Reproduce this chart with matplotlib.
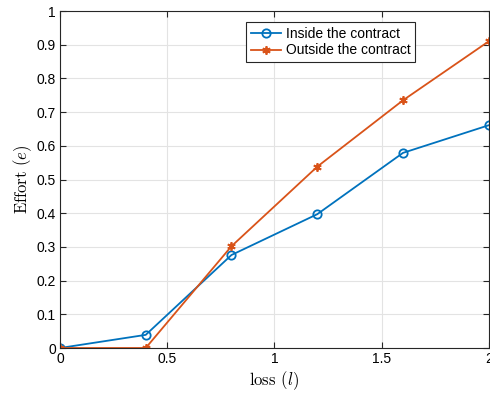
import matplotlib
matplotlib.use("Agg")
import matplotlib.pyplot as plt

loss = [0, 0.4, 0.8, 1.2, 1.6, 2.0]
inside = [0, 0.039, 0.276, 0.397, 0.579, 0.661]
outside = [0, 0, 0.302, 0.538, 0.735, 0.910]

plt.rcParams['font.family'] = 'Liberation Sans'
plt.rcParams['mathtext.fontset'] = 'cm'

fig = plt.figure(figsize=(4.9, 3.96), dpi=100)
ax = fig.add_axes([0.1224, 0.1212, 0.875, 0.851])

ax.plot(loss, inside, color='#0072BD', marker='o', markerfacecolor='none',
        markersize=6, markeredgewidth=1.3, linewidth=1.3, label='Inside the contract')
ax.plot(loss, outside, color='#D95319', marker=(6, 2, 0), markersize=6,
        markeredgewidth=1.3, linewidth=1.3, label='Outside the contract')

ax.set_xlim(0, 2)
ax.set_ylim(0, 1)
ax.set_xticks([0, 0.5, 1, 1.5, 2])
ax.set_xticklabels(['0', '0.5', '1', '1.5', '2'])
ax.set_yticks([i / 10 for i in range(11)])
ax.set_yticklabels(['0', '0.1', '0.2', '0.3', '0.4', '0.5', '0.6', '0.7', '0.8', '0.9', '1'])
ax.grid(True, color='#e3e3e3', linewidth=0.8)
ax.set_axisbelow(True)
ax.tick_params(direction='in', labelsize=10, length=4, color='#262626',
               top=True, right=True, pad=3)
for s in ax.spines.values():
    s.set_color('#262626')
    s.set_linewidth(0.8)

ax.set_xlabel('loss $(l)$', fontsize=12, family='cmr10', labelpad=2)
ax.set_ylabel('Effort $(e)$', fontsize=12, family='cmr10', labelpad=2)

leg = ax.legend(loc='upper left', bbox_to_anchor=(0.435, 0.966), fontsize=10,
                fancybox=False, edgecolor='#262626', framealpha=1,
                handlelength=2.2, borderpad=0.3, labelspacing=0.2,
                handletextpad=0.35, borderaxespad=0)
leg.get_frame().set_linewidth(0.8)

fig.savefig('out.png', dpi=100)
